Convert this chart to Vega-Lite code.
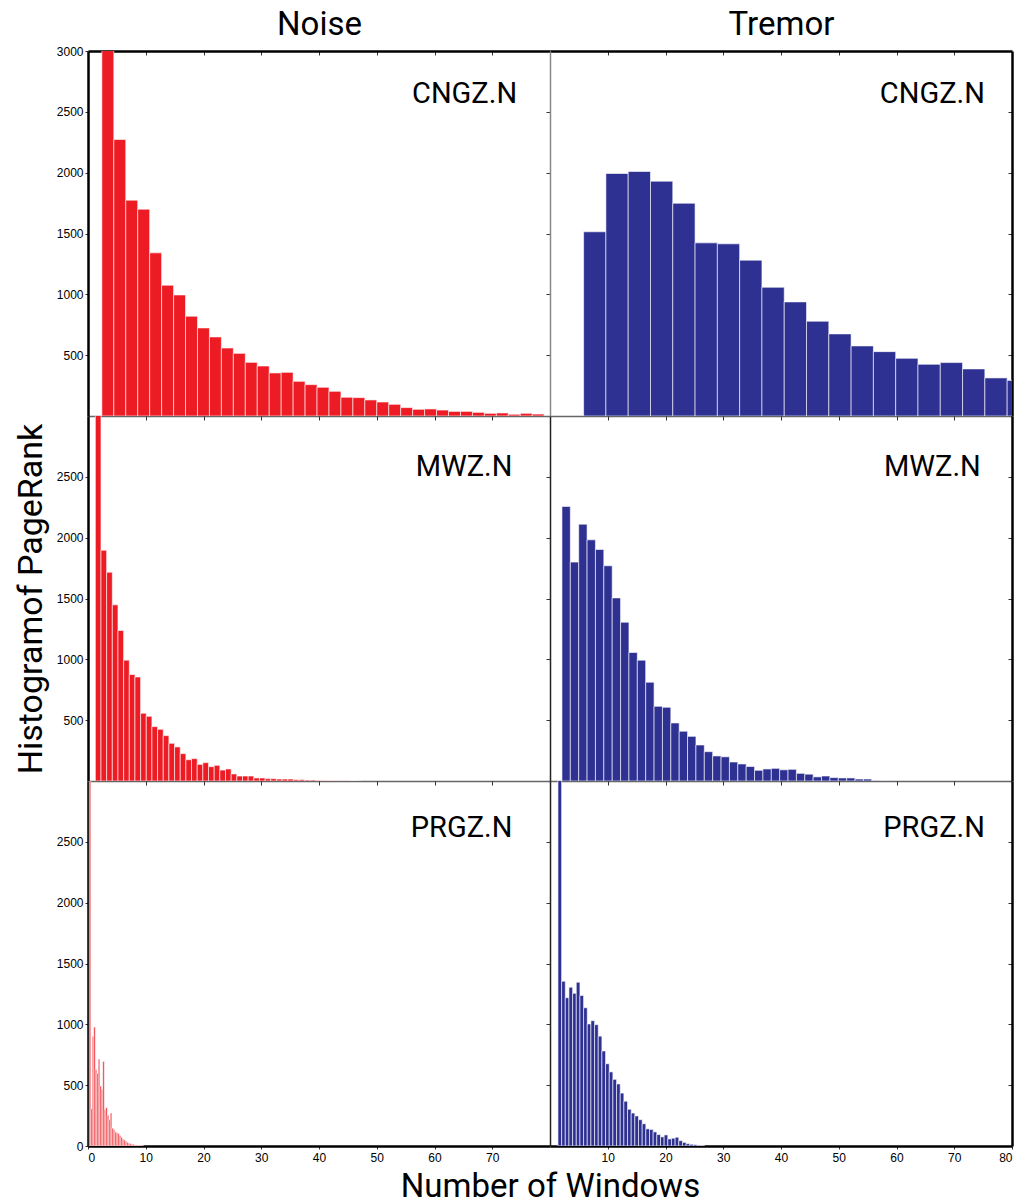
{
  "$schema": "https://vega.github.io/schema/vega-lite/v6.json",
  "background": "white",
  "padding": {"left": 14, "top": 8, "right": 5, "bottom": 0},
  "config": {
    "view": {"stroke": null},
    "axis": {"labelFont": "Liberation Sans", "labelFontSize": 12, "labelColor": "black", "tickColor": "#333", "grid": false, "format": "d"}
  },
  "datasets": {
    "noise_cngz": [
      {"start": 2.40, "end": 4.47, "count": 3400}, {"start": 4.47, "end": 6.54, "count": 2273}, {"start": 6.54, "end": 8.61, "count": 1774},
      {"start": 8.61, "end": 10.68, "count": 1700}, {"start": 10.68, "end": 12.75, "count": 1341}, {"start": 12.75, "end": 14.82, "count": 1075},
      {"start": 14.82, "end": 16.89, "count": 995}, {"start": 16.89, "end": 18.96, "count": 820}, {"start": 18.96, "end": 21.03, "count": 724},
      {"start": 21.03, "end": 23.10, "count": 650}, {"start": 23.10, "end": 25.17, "count": 559}, {"start": 25.17, "end": 27.24, "count": 515},
      {"start": 27.24, "end": 29.31, "count": 441}, {"start": 29.31, "end": 31.38, "count": 411}, {"start": 31.38, "end": 33.45, "count": 354},
      {"start": 33.45, "end": 35.52, "count": 359}, {"start": 35.52, "end": 37.59, "count": 285}, {"start": 37.59, "end": 39.66, "count": 258},
      {"start": 39.66, "end": 41.73, "count": 236}, {"start": 41.73, "end": 43.80, "count": 203}, {"start": 43.80, "end": 45.87, "count": 154},
      {"start": 45.87, "end": 47.94, "count": 151}, {"start": 47.94, "end": 50.01, "count": 132}, {"start": 50.01, "end": 52.08, "count": 115},
      {"start": 52.08, "end": 54.15, "count": 96}, {"start": 54.15, "end": 56.22, "count": 69}, {"start": 56.22, "end": 58.29, "count": 55},
      {"start": 58.29, "end": 60.36, "count": 58}, {"start": 60.36, "end": 62.43, "count": 49}, {"start": 62.43, "end": 64.50, "count": 38},
      {"start": 64.50, "end": 66.57, "count": 38}, {"start": 66.57, "end": 68.64, "count": 30}, {"start": 68.64, "end": 70.71, "count": 22},
      {"start": 70.71, "end": 72.78, "count": 25}, {"start": 72.78, "end": 74.85, "count": 14}, {"start": 74.85, "end": 76.92, "count": 22},
      {"start": 76.92, "end": 78.99, "count": 16}
    ],
    "tremor_cngz": [
      {"start": 5.82, "end": 9.68, "count": 1514}, {"start": 9.68, "end": 13.54, "count": 1993}, {"start": 13.54, "end": 17.40, "count": 2010},
      {"start": 17.40, "end": 21.26, "count": 1930}, {"start": 21.26, "end": 25.12, "count": 1749}, {"start": 25.12, "end": 28.98, "count": 1423},
      {"start": 28.98, "end": 32.84, "count": 1415}, {"start": 32.84, "end": 36.70, "count": 1281}, {"start": 36.70, "end": 40.56, "count": 1058},
      {"start": 40.56, "end": 44.42, "count": 938}, {"start": 44.42, "end": 48.28, "count": 779}, {"start": 48.28, "end": 52.14, "count": 675},
      {"start": 52.14, "end": 56.00, "count": 576}, {"start": 56.00, "end": 59.86, "count": 529}, {"start": 59.86, "end": 63.72, "count": 474},
      {"start": 63.72, "end": 67.58, "count": 425}, {"start": 67.58, "end": 71.44, "count": 439}, {"start": 71.44, "end": 75.30, "count": 387},
      {"start": 75.30, "end": 79.16, "count": 313}, {"start": 79.16, "end": 83.02, "count": 293}
    ],
    "noise_mwz": [
      {"start": 1.27, "end": 2.25, "count": 3500}, {"start": 2.25, "end": 3.23, "count": 1897}, {"start": 3.23, "end": 4.21, "count": 1716},
      {"start": 4.21, "end": 5.19, "count": 1448}, {"start": 5.19, "end": 6.17, "count": 1237}, {"start": 6.17, "end": 7.15, "count": 993},
      {"start": 7.15, "end": 8.13, "count": 875}, {"start": 8.13, "end": 9.11, "count": 855}, {"start": 9.11, "end": 10.09, "count": 557},
      {"start": 10.09, "end": 11.07, "count": 532}, {"start": 11.07, "end": 12.05, "count": 447}, {"start": 12.05, "end": 13.03, "count": 425},
      {"start": 13.03, "end": 14.01, "count": 373}, {"start": 14.01, "end": 14.99, "count": 310}, {"start": 14.99, "end": 15.97, "count": 280},
      {"start": 15.97, "end": 16.95, "count": 225}, {"start": 16.95, "end": 17.93, "count": 175}, {"start": 17.93, "end": 18.91, "count": 184},
      {"start": 18.91, "end": 19.89, "count": 137}, {"start": 19.89, "end": 20.87, "count": 151}, {"start": 20.87, "end": 21.85, "count": 118},
      {"start": 21.85, "end": 22.83, "count": 129}, {"start": 22.83, "end": 23.81, "count": 90}, {"start": 23.81, "end": 24.79, "count": 99},
      {"start": 24.79, "end": 25.77, "count": 58}, {"start": 25.77, "end": 26.75, "count": 41}, {"start": 26.75, "end": 27.73, "count": 41},
      {"start": 27.73, "end": 28.71, "count": 41}, {"start": 28.71, "end": 29.69, "count": 25}, {"start": 29.69, "end": 30.67, "count": 25},
      {"start": 30.67, "end": 31.65, "count": 19}, {"start": 31.65, "end": 32.63, "count": 19}, {"start": 32.63, "end": 33.61, "count": 16},
      {"start": 33.61, "end": 34.59, "count": 16}, {"start": 34.59, "end": 35.57, "count": 16}, {"start": 35.57, "end": 36.55, "count": 11},
      {"start": 36.55, "end": 37.53, "count": 11}, {"start": 37.53, "end": 38.51, "count": 8}, {"start": 38.51, "end": 39.49, "count": 8},
      {"start": 39.49, "end": 40.47, "count": 5}, {"start": 40.47, "end": 41.45, "count": 3}, {"start": 41.45, "end": 42.43, "count": 3},
      {"start": 42.43, "end": 43.41, "count": 2}, {"start": 43.41, "end": 44.39, "count": 2}, {"start": 44.39, "end": 45.37, "count": 2},
      {"start": 45.37, "end": 46.35, "count": 1}, {"start": 46.35, "end": 47.33, "count": 1}
    ],
    "tremor_mwz": [
      {"start": 2.07, "end": 3.52, "count": 2257}, {"start": 3.52, "end": 4.97, "count": 1799}, {"start": 4.97, "end": 6.42, "count": 2111},
      {"start": 6.42, "end": 7.87, "count": 1982}, {"start": 7.87, "end": 9.32, "count": 1903}, {"start": 9.32, "end": 10.77, "count": 1769},
      {"start": 10.77, "end": 12.22, "count": 1505}, {"start": 12.22, "end": 13.67, "count": 1305}, {"start": 13.67, "end": 15.12, "count": 1056},
      {"start": 15.12, "end": 16.57, "count": 993}, {"start": 16.57, "end": 18.02, "count": 812}, {"start": 18.02, "end": 19.47, "count": 614},
      {"start": 19.47, "end": 20.92, "count": 606}, {"start": 20.92, "end": 22.37, "count": 477}, {"start": 22.37, "end": 23.82, "count": 409},
      {"start": 23.82, "end": 25.27, "count": 367}, {"start": 25.27, "end": 26.72, "count": 296}, {"start": 26.72, "end": 28.17, "count": 241},
      {"start": 28.17, "end": 29.62, "count": 206}, {"start": 29.62, "end": 31.07, "count": 199}, {"start": 31.07, "end": 32.52, "count": 156},
      {"start": 32.52, "end": 33.97, "count": 140}, {"start": 33.97, "end": 35.42, "count": 119}, {"start": 35.42, "end": 36.87, "count": 88},
      {"start": 36.87, "end": 38.32, "count": 99}, {"start": 38.32, "end": 39.77, "count": 104}, {"start": 39.77, "end": 41.22, "count": 92},
      {"start": 41.22, "end": 42.67, "count": 96}, {"start": 42.67, "end": 44.12, "count": 63}, {"start": 44.12, "end": 45.57, "count": 56},
      {"start": 45.57, "end": 47.02, "count": 34}, {"start": 47.02, "end": 48.47, "count": 41}, {"start": 48.47, "end": 49.92, "count": 28},
      {"start": 49.92, "end": 51.37, "count": 25}, {"start": 51.37, "end": 52.82, "count": 25}, {"start": 52.82, "end": 54.27, "count": 16},
      {"start": 54.27, "end": 55.72, "count": 16}, {"start": 55.72, "end": 57.17, "count": 5}, {"start": 57.17, "end": 58.62, "count": 3}
    ],
    "noise_prgz": [
      {"start": 0.22, "end": 0.48, "count": 3400}, {"start": 0.48, "end": 0.74, "count": 307}, {"start": 0.74, "end": 1.00, "count": 900},
      {"start": 1.00, "end": 1.26, "count": 978}, {"start": 1.26, "end": 1.52, "count": 626}, {"start": 1.52, "end": 1.78, "count": 598},
      {"start": 1.78, "end": 2.04, "count": 715}, {"start": 2.04, "end": 2.30, "count": 493}, {"start": 2.30, "end": 2.56, "count": 465},
      {"start": 2.56, "end": 2.82, "count": 695}, {"start": 2.82, "end": 3.08, "count": 299}, {"start": 3.08, "end": 3.34, "count": 316},
      {"start": 3.34, "end": 3.60, "count": 252}, {"start": 3.60, "end": 3.86, "count": 216}, {"start": 3.86, "end": 4.12, "count": 271},
      {"start": 4.12, "end": 4.38, "count": 147}, {"start": 4.38, "end": 4.64, "count": 133}, {"start": 4.64, "end": 4.90, "count": 114},
      {"start": 4.90, "end": 5.16, "count": 108}, {"start": 5.16, "end": 5.42, "count": 103}, {"start": 5.42, "end": 5.68, "count": 86},
      {"start": 5.68, "end": 5.94, "count": 72}, {"start": 5.94, "end": 6.20, "count": 58}, {"start": 6.20, "end": 6.46, "count": 50},
      {"start": 6.46, "end": 6.72, "count": 39}, {"start": 6.72, "end": 6.98, "count": 30}, {"start": 6.98, "end": 7.24, "count": 22},
      {"start": 7.24, "end": 7.50, "count": 19}, {"start": 7.50, "end": 7.76, "count": 14}, {"start": 7.76, "end": 8.02, "count": 14},
      {"start": 8.02, "end": 8.28, "count": 8}, {"start": 8.28, "end": 8.54, "count": 8}, {"start": 8.54, "end": 8.80, "count": 6},
      {"start": 8.80, "end": 9.06, "count": 6}, {"start": 9.06, "end": 9.32, "count": 3}, {"start": 9.32, "end": 9.58, "count": 3}
    ],
    "tremor_prgz": [
      {"start": 1.380, "end": 2.014, "count": 3400}, {"start": 2.014, "end": 2.648, "count": 1354}, {"start": 2.648, "end": 3.282, "count": 1219},
      {"start": 3.282, "end": 3.916, "count": 1305}, {"start": 3.916, "end": 4.550, "count": 1255}, {"start": 4.550, "end": 5.184, "count": 1346},
      {"start": 5.184, "end": 5.818, "count": 1238}, {"start": 5.818, "end": 6.452, "count": 1136}, {"start": 6.452, "end": 7.086, "count": 1003},
      {"start": 7.086, "end": 7.720, "count": 1030}, {"start": 7.720, "end": 8.354, "count": 997}, {"start": 8.354, "end": 8.988, "count": 903},
      {"start": 8.988, "end": 9.622, "count": 781}, {"start": 9.622, "end": 10.256, "count": 676}, {"start": 10.256, "end": 10.890, "count": 609},
      {"start": 10.890, "end": 11.524, "count": 548}, {"start": 11.524, "end": 12.158, "count": 510}, {"start": 12.158, "end": 12.792, "count": 435},
      {"start": 12.792, "end": 13.426, "count": 368}, {"start": 13.426, "end": 14.060, "count": 302}, {"start": 14.060, "end": 14.694, "count": 271},
      {"start": 14.694, "end": 15.328, "count": 247}, {"start": 15.328, "end": 15.962, "count": 216}, {"start": 15.962, "end": 16.596, "count": 183},
      {"start": 16.596, "end": 17.230, "count": 141}, {"start": 17.230, "end": 17.864, "count": 136}, {"start": 17.864, "end": 18.498, "count": 116},
      {"start": 18.498, "end": 19.132, "count": 94}, {"start": 19.132, "end": 19.766, "count": 75}, {"start": 19.766, "end": 20.400, "count": 91},
      {"start": 20.400, "end": 21.034, "count": 58}, {"start": 21.034, "end": 21.668, "count": 64}, {"start": 21.668, "end": 22.302, "count": 72},
      {"start": 22.302, "end": 22.936, "count": 44}, {"start": 22.936, "end": 23.570, "count": 30}, {"start": 23.570, "end": 24.204, "count": 19},
      {"start": 24.204, "end": 24.838, "count": 14}, {"start": 24.838, "end": 25.472, "count": 11}, {"start": 25.472, "end": 26.106, "count": 6},
      {"start": 26.106, "end": 26.740, "count": 3}
    ]
  },
  "columns": 2,
  "spacing": 0,
  "bounds": "flush",
  "concat": [
    {
      "width": 462, "height": 365,
      "layer": [
        {
          "data": {"name": "noise_cngz"},
          "mark": {"type": "bar", "clip": true, "color": "#ed1c24", "stroke": "white", "strokeWidth": 0.6},
          "encoding": {
            "x": {"field": "start", "type": "quantitative", "scale": {"domain": [0, 80], "nice": false, "zero": false},
                  "axis": {"orient": "bottom", "title": null, "values": [10, 20, 30, 40, 50, 60, 70], "labels": false, "tickSize": 3, "domainColor": "#666", "domainWidth": 1.5}},
            "x2": {"field": "end"},
            "y": {"field": "count", "type": "quantitative", "scale": {"domain": [0, 3000], "nice": false},
                  "axis": {"orient": "left", "title": null, "values": [500, 1000, 1500, 2000, 2500, 3000], "tickSize": 3, "labelPadding": 2, "domainColor": "black", "domainWidth": 2.5}},
            "y2": {"datum": 0}
          }
        },
        {
          "data": {"name": "noise_cngz"},
          "mark": {"type": "bar", "clip": true, "opacity": 0},
          "encoding": {
            "x": {"field": "start", "type": "quantitative", "axis": {"orient": "top", "title": "Noise", "titleFont": "Roboto", "titleFontSize": 33, "titleFontWeight": "normal", "titleColor": "black", "titleBaseline": "alphabetic", "titleY": -17, "titleX": 231,
                  "values": [10, 20, 30, 40, 50, 60, 70], "labels": false, "tickSize": -4, "domainColor": "black", "domainWidth": 2.5}},
            "x2": {"field": "end"},
            "y": {"field": "count", "type": "quantitative", "axis": {"orient": "right", "title": null, "values": [500, 1000, 1500, 2000, 2500], "labels": false, "tickSize": -4, "domain": false}},
            "y2": {"datum": 0}
          }
        },
        {
          "data": {"values": [{"label": "CNGZ.N"}]},
          "mark": {"type": "text", "align": "right", "baseline": "middle", "font": "Roboto", "fontSize": 29, "color": "black"},
          "encoding": {
            "x": {"datum": 74.3, "type": "quantitative", "axis": null},
            "y": {"datum": 2645, "type": "quantitative", "axis": null},
            "text": {"field": "label"}
          }
        }
      ],
      "resolve": {"axis": {"x": "independent", "y": "independent"}}
    },
    {
      "width": 462, "height": 365,
      "layer": [
        {
          "data": {"name": "tremor_cngz"},
          "mark": {"type": "bar", "clip": true, "color": "#2e3192", "stroke": "white", "strokeWidth": 0.6},
          "encoding": {
            "x": {"field": "start", "type": "quantitative", "scale": {"domain": [0, 80], "nice": false, "zero": false},
                  "axis": {"orient": "bottom", "title": null, "values": [10, 20, 30, 40, 50, 60, 70], "labels": false, "tickSize": 3, "domainColor": "#666", "domainWidth": 1.5}},
            "x2": {"field": "end"},
            "y": {"field": "count", "type": "quantitative", "scale": {"domain": [0, 3000], "nice": false},
                  "axis": {"orient": "left", "title": null, "values": [500, 1000, 1500, 2000, 2500], "labels": false, "tickSize": 3, "domainColor": "#888", "domainWidth": 1.5}},
            "y2": {"datum": 0}
          }
        },
        {
          "data": {"name": "tremor_cngz"},
          "mark": {"type": "bar", "clip": true, "opacity": 0},
          "encoding": {
            "x": {"field": "start", "type": "quantitative", "axis": {"orient": "top", "title": "Tremor", "titleFont": "Roboto", "titleFontSize": 33, "titleFontWeight": "normal", "titleColor": "black", "titleBaseline": "alphabetic", "titleY": -17, "titleX": 231,
                  "values": [10, 20, 30, 40, 50, 60, 70], "labels": false, "tickSize": -4, "domainColor": "black", "domainWidth": 2.5}},
            "x2": {"field": "end"},
            "y": {"field": "count", "type": "quantitative", "axis": {"orient": "right", "title": null, "values": [500, 1000, 1500, 2000, 2500], "labels": false, "tickSize": -4, "domainColor": "black", "domainWidth": 2.5}},
            "y2": {"datum": 0}
          }
        },
        {
          "data": {"values": [{"label": "CNGZ.N"}]},
          "mark": {"type": "text", "align": "right", "baseline": "middle", "font": "Roboto", "fontSize": 29, "color": "black"},
          "encoding": {
            "x": {"datum": 75.3, "type": "quantitative", "axis": null},
            "y": {"datum": 2645, "type": "quantitative", "axis": null},
            "text": {"field": "label"}
          }
        }
      ],
      "resolve": {"axis": {"x": "independent", "y": "independent"}}
    },
    {
      "width": 462, "height": 365,
      "layer": [
        {
          "data": {"name": "noise_mwz"},
          "mark": {"type": "bar", "clip": true, "color": "#ed1c24", "stroke": "white", "strokeWidth": 0.6},
          "encoding": {
            "x": {"field": "start", "type": "quantitative", "scale": {"domain": [0, 80], "nice": false, "zero": false},
                  "axis": {"orient": "bottom", "title": null, "values": [10, 20, 30, 40, 50, 60, 70], "labels": false, "tickSize": 3, "domainColor": "#666", "domainWidth": 1.5}},
            "x2": {"field": "end"},
            "y": {"field": "count", "type": "quantitative", "scale": {"domain": [0, 3000], "nice": false},
                  "axis": {"orient": "left", "title": "Histogramof PageRank", "titleFont": "Roboto", "titleFontSize": 34, "titleFontWeight": "normal", "titleColor": "black", "titlePadding": 8,
                           "values": [500, 1000, 1500, 2000, 2500], "tickSize": 3, "labelPadding": 2, "domainColor": "black", "domainWidth": 2.5}},
            "y2": {"datum": 0}
          }
        },
        {
          "data": {"name": "noise_mwz"},
          "mark": {"type": "bar", "clip": true, "opacity": 0},
          "encoding": {
            "x": {"field": "start", "type": "quantitative", "axis": {"orient": "top", "title": null, "values": [10, 20, 30, 40, 50, 60, 70], "labels": false, "tickSize": -4, "domain": false}},
            "x2": {"field": "end"},
            "y": {"field": "count", "type": "quantitative", "axis": {"orient": "right", "title": null, "values": [500, 1000, 1500, 2000, 2500], "labels": false, "tickSize": -4, "domain": false}},
            "y2": {"datum": 0}
          }
        },
        {
          "data": {"values": [{"label": "MWZ.N"}]},
          "mark": {"type": "text", "align": "right", "baseline": "middle", "font": "Roboto", "fontSize": 29, "color": "black"},
          "encoding": {
            "x": {"datum": 73.5, "type": "quantitative", "axis": null},
            "y": {"datum": 2580, "type": "quantitative", "axis": null},
            "text": {"field": "label"}
          }
        }
      ],
      "resolve": {"axis": {"x": "independent", "y": "independent"}}
    },
    {
      "width": 462, "height": 365,
      "layer": [
        {
          "data": {"name": "tremor_mwz"},
          "mark": {"type": "bar", "clip": true, "color": "#2e3192", "stroke": "white", "strokeWidth": 0.6},
          "encoding": {
            "x": {"field": "start", "type": "quantitative", "scale": {"domain": [0, 80], "nice": false, "zero": false},
                  "axis": {"orient": "bottom", "title": null, "values": [10, 20, 30, 40, 50, 60, 70], "labels": false, "tickSize": 3, "domainColor": "#666", "domainWidth": 1.5}},
            "x2": {"field": "end"},
            "y": {"field": "count", "type": "quantitative", "scale": {"domain": [0, 3000], "nice": false},
                  "axis": {"orient": "left", "title": null, "values": [500, 1000, 1500, 2000, 2500], "labels": false, "tickSize": 3, "domainColor": "#222", "domainWidth": 1.5}},
            "y2": {"datum": 0}
          }
        },
        {
          "data": {"name": "tremor_mwz"},
          "mark": {"type": "bar", "clip": true, "opacity": 0},
          "encoding": {
            "x": {"field": "start", "type": "quantitative", "axis": {"orient": "top", "title": null, "values": [10, 20, 30, 40, 50, 60, 70], "labels": false, "tickSize": -4, "domain": false}},
            "x2": {"field": "end"},
            "y": {"field": "count", "type": "quantitative", "axis": {"orient": "right", "title": null, "values": [500, 1000, 1500, 2000, 2500], "labels": false, "tickSize": -4, "domainColor": "black", "domainWidth": 2.5}},
            "y2": {"datum": 0}
          }
        },
        {
          "data": {"values": [{"label": "MWZ.N"}]},
          "mark": {"type": "text", "align": "right", "baseline": "middle", "font": "Roboto", "fontSize": 29, "color": "black"},
          "encoding": {
            "x": {"datum": 74.6, "type": "quantitative", "axis": null},
            "y": {"datum": 2580, "type": "quantitative", "axis": null},
            "text": {"field": "label"}
          }
        }
      ],
      "resolve": {"axis": {"x": "independent", "y": "independent"}}
    },
    {
      "width": 462, "height": 365,
      "layer": [
        {
          "data": {"name": "noise_prgz"},
          "mark": {"type": "bar", "clip": true, "color": "#ed1c24", "stroke": "white", "strokeWidth": 0.6},
          "encoding": {
            "x": {"field": "start", "type": "quantitative", "scale": {"domain": [0, 80], "nice": false, "zero": false},
                  "axis": {"orient": "bottom", "title": "Number of Windows", "titleFont": "Roboto", "titleFontSize": 33, "titleFontWeight": "normal", "titleColor": "black", "titleX": 462, "titleY": 50, "titleBaseline": "alphabetic",
                           "values": [0, 10, 20, 30, 40, 50, 60, 70], "tickSize": 3, "labelPadding": 3, "domainColor": "black", "domainWidth": 2.5}},
            "x2": {"field": "end"},
            "y": {"field": "count", "type": "quantitative", "scale": {"domain": [0, 3000], "nice": false},
                  "axis": {"orient": "left", "title": null, "values": [0, 500, 1000, 1500, 2000, 2500], "tickSize": 3, "labelPadding": 2, "domainColor": "black", "domainWidth": 2.5}},
            "y2": {"datum": 0}
          }
        },
        {
          "data": {"name": "noise_prgz"},
          "mark": {"type": "bar", "clip": true, "opacity": 0},
          "encoding": {
            "x": {"field": "start", "type": "quantitative", "axis": {"orient": "top", "title": null, "values": [10, 20, 30, 40, 50, 60, 70], "labels": false, "tickSize": -4, "domain": false}},
            "x2": {"field": "end"},
            "y": {"field": "count", "type": "quantitative", "axis": {"orient": "right", "title": null, "values": [500, 1000, 1500, 2000, 2500], "labels": false, "tickSize": -4, "domain": false}},
            "y2": {"datum": 0}
          }
        },
        {
          "data": {"values": [{"label": "PRGZ.N"}]},
          "mark": {"type": "text", "align": "right", "baseline": "middle", "font": "Roboto", "fontSize": 29, "color": "black"},
          "encoding": {
            "x": {"datum": 73.5, "type": "quantitative", "axis": null},
            "y": {"datum": 2615, "type": "quantitative", "axis": null},
            "text": {"field": "label"}
          }
        }
      ],
      "resolve": {"axis": {"x": "independent", "y": "independent"}}
    },
    {
      "width": 462, "height": 365,
      "layer": [
        {
          "data": {"name": "tremor_prgz"},
          "mark": {"type": "bar", "clip": true, "color": "#2e3192", "stroke": "white", "strokeWidth": 0.6},
          "encoding": {
            "x": {"field": "start", "type": "quantitative", "scale": {"domain": [0, 80], "nice": false, "zero": false},
                  "axis": {"orient": "bottom", "title": null, "values": [10, 20, 30, 40, 50, 60, 70, 80], "tickSize": 3, "labelPadding": 3, "domainColor": "black", "domainWidth": 2.5}},
            "x2": {"field": "end"},
            "y": {"field": "count", "type": "quantitative", "scale": {"domain": [0, 3000], "nice": false},
                  "axis": {"orient": "left", "title": null, "values": [500, 1000, 1500, 2000, 2500], "labels": false, "tickSize": 3, "domainColor": "#222", "domainWidth": 1.5}},
            "y2": {"datum": 0}
          }
        },
        {
          "data": {"name": "tremor_prgz"},
          "mark": {"type": "bar", "clip": true, "opacity": 0},
          "encoding": {
            "x": {"field": "start", "type": "quantitative", "axis": {"orient": "top", "title": null, "values": [10, 20, 30, 40, 50, 60, 70], "labels": false, "tickSize": -4, "domain": false}},
            "x2": {"field": "end"},
            "y": {"field": "count", "type": "quantitative", "axis": {"orient": "right", "title": null, "values": [500, 1000, 1500, 2000, 2500], "labels": false, "tickSize": -4, "domainColor": "black", "domainWidth": 2.5}},
            "y2": {"datum": 0}
          }
        },
        {
          "data": {"values": [{"label": "PRGZ.N"}]},
          "mark": {"type": "text", "align": "right", "baseline": "middle", "font": "Roboto", "fontSize": 29, "color": "black"},
          "encoding": {
            "x": {"datum": 75.3, "type": "quantitative", "axis": null},
            "y": {"datum": 2615, "type": "quantitative", "axis": null},
            "text": {"field": "label"}
          }
        }
      ],
      "resolve": {"axis": {"x": "independent", "y": "independent"}}
    }
  ]
}
